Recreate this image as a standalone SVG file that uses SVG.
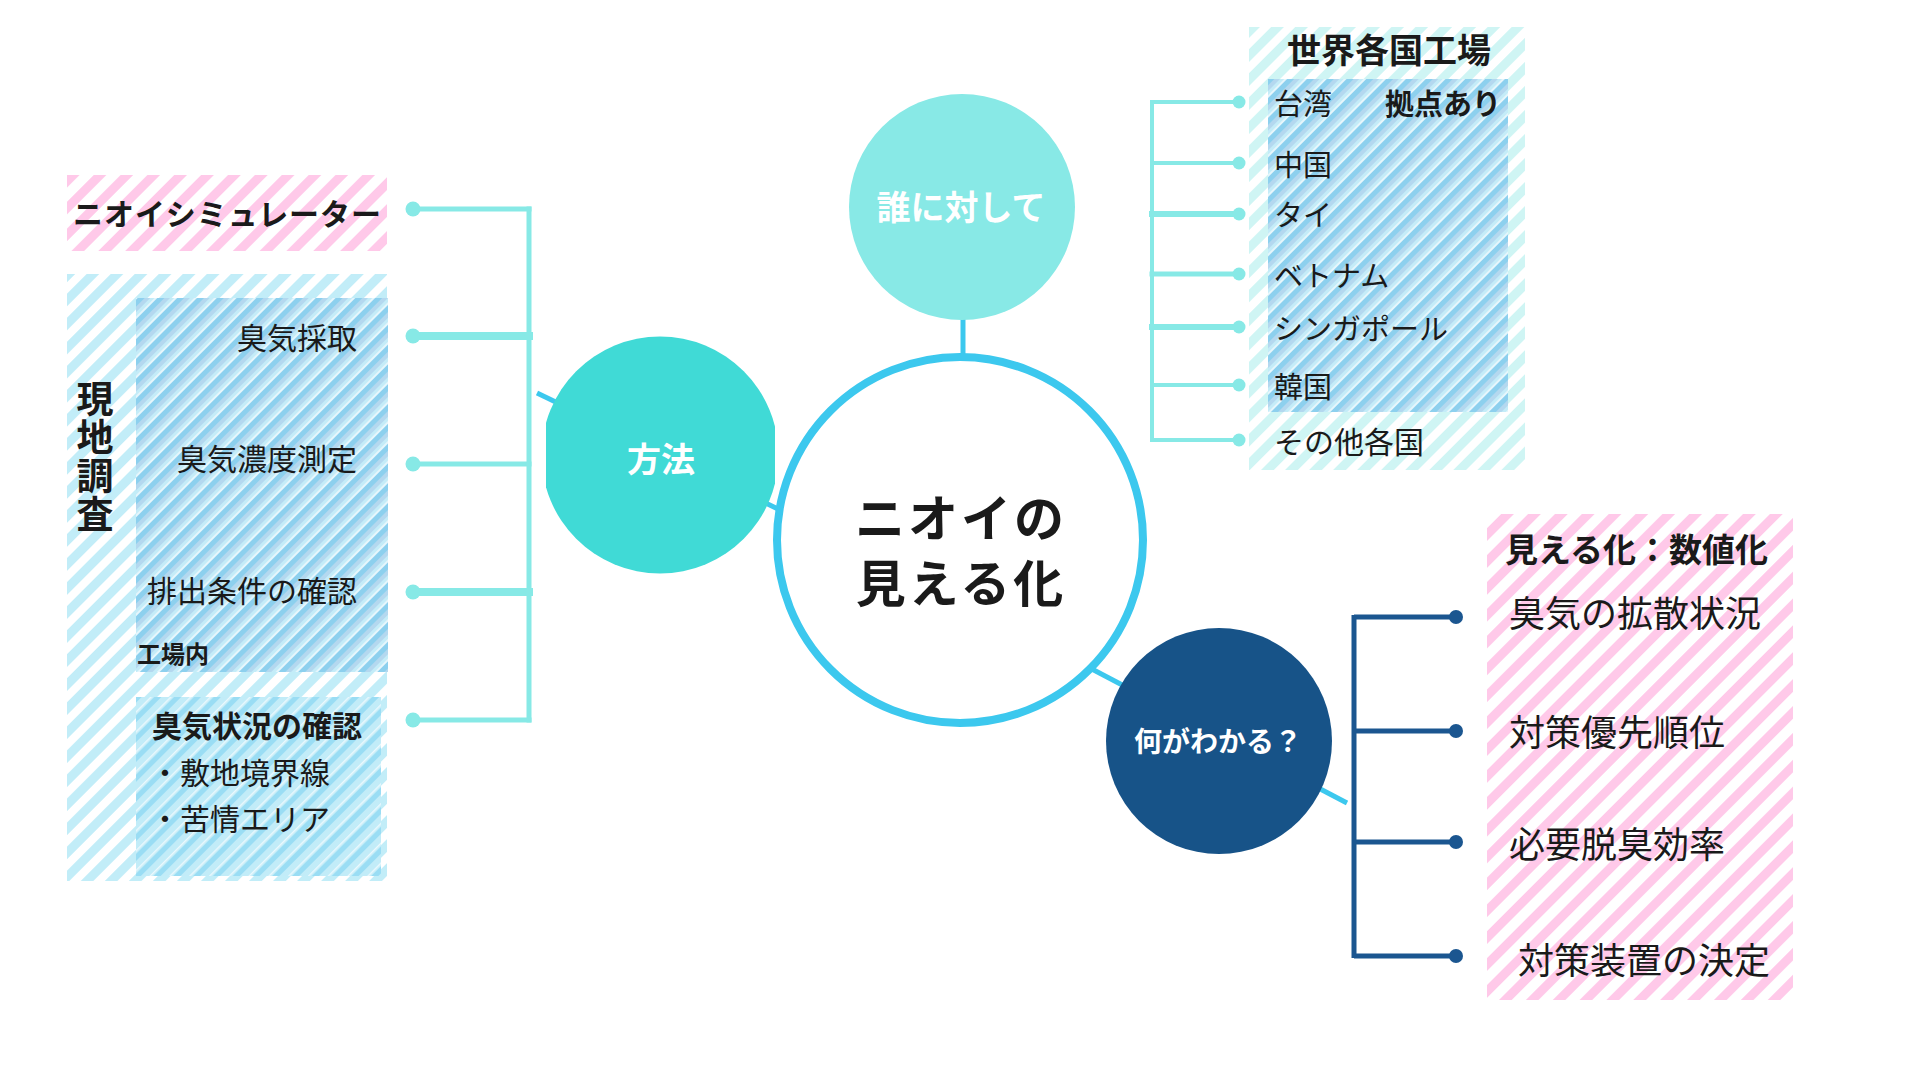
<svg xmlns="http://www.w3.org/2000/svg" width="1920" height="1080" viewBox="0 0 1920 1080">
<style>
text{font-family:"Noto Sans CJK JP","Noto Sans",sans-serif;fill:#1a1a1a}
.b{font-weight:700}
.w{fill:#ffffff;font-weight:700}
.c{dominant-baseline:central}
.br{fill:none;stroke:#87E9E6;stroke-linecap:square}
.dot{fill:#87E9E6}
.dk{fill:none;stroke:#1B5690;stroke-width:5}
.dkdot{fill:#1B5690}
.main{stroke:#3CC8EE;stroke-width:5;fill:none}
</style>
<defs>
<pattern id="pink" patternUnits="userSpaceOnUse" width="19" height="19" patternTransform="rotate(45)">
<rect width="19" height="19" fill="#ffffff"/><rect width="9" height="19" fill="#FFC9E9"/>
</pattern>
<pattern id="lblue" patternUnits="userSpaceOnUse" width="17" height="17" patternTransform="rotate(45)">
<rect width="17" height="17" fill="#ffffff"/><rect width="9" height="17" fill="#C2EDF8"/>
</pattern>
<pattern id="cyan" patternUnits="userSpaceOnUse" width="17" height="17" patternTransform="rotate(45)">
<rect width="17" height="17" fill="#ffffff"/><rect width="9" height="17" fill="#CFF5F4"/>
</pattern>
<pattern id="dblue" patternUnits="userSpaceOnUse" width="14" height="14" patternTransform="rotate(45)">
<rect width="14" height="14" fill="#C4ECF8"/><rect width="5" height="14" fill="#8DD0EE"/><rect x="5" width="4" height="14" fill="#B4D8EF"/><rect x="12" width="2" height="14" fill="#E6F6FC"/>
</pattern>
<pattern id="mblue" patternUnits="userSpaceOnUse" width="14" height="14" patternTransform="rotate(45)">
<rect width="14" height="14" fill="#C2ECF8"/><rect width="5" height="14" fill="#9ADDF4"/><rect x="11" width="1.5" height="14" fill="#EAF8FD"/>
</pattern>
<clipPath id="clipHoho"><rect x="546" y="330" width="229" height="250"/></clipPath>
</defs>
<rect width="1920" height="1080" fill="#ffffff"/>

<g id="connectors">
<line class="main" x1="537" y1="393" x2="778" y2="509"/>
<line class="main" x1="1088" y1="667" x2="1347" y2="803"/>
<line class="main" x1="963" y1="318" x2="963" y2="356" stroke-width="4"/>
<!-- left bracket -->
<line class="br" x1="529" y1="209" x2="529" y2="720" stroke-width="5"/>
<line class="br" x1="413" y1="209" x2="529" y2="209" stroke-width="5"/>
<line class="br" x1="413" y1="336" x2="529" y2="336" stroke-width="8"/>
<line class="br" x1="413" y1="464" x2="529" y2="464" stroke-width="5"/>
<line class="br" x1="413" y1="592" x2="529" y2="592" stroke-width="8"/>
<line class="br" x1="413" y1="720" x2="529" y2="720" stroke-width="5"/>
<circle class="dot" cx="413" cy="209" r="7.5"/>
<circle class="dot" cx="413" cy="336" r="7.5"/>
<circle class="dot" cx="413" cy="464" r="7.5"/>
<circle class="dot" cx="413" cy="592" r="7.5"/>
<circle class="dot" cx="413" cy="720" r="7.5"/>
<!-- top right bracket -->
<line class="br" x1="1152" y1="102" x2="1152" y2="440" stroke-width="4"/>
<line class="br" x1="1152" y1="102" x2="1239" y2="102" stroke-width="4"/>
<line class="br" x1="1152" y1="163" x2="1239" y2="163" stroke-width="4"/>
<line class="br" x1="1152" y1="214" x2="1239" y2="214" stroke-width="6"/>
<line class="br" x1="1152" y1="274" x2="1239" y2="274" stroke-width="5"/>
<line class="br" x1="1152" y1="327" x2="1239" y2="327" stroke-width="6"/>
<line class="br" x1="1152" y1="385" x2="1239" y2="385" stroke-width="4"/>
<line class="br" x1="1152" y1="440" x2="1239" y2="440" stroke-width="4"/>
<circle class="dot" cx="1239" cy="102" r="6.5"/>
<circle class="dot" cx="1239" cy="163" r="6.5"/>
<circle class="dot" cx="1239" cy="214" r="6.5"/>
<circle class="dot" cx="1239" cy="274" r="6.5"/>
<circle class="dot" cx="1239" cy="327" r="6.5"/>
<circle class="dot" cx="1239" cy="385" r="6.5"/>
<circle class="dot" cx="1239" cy="440" r="6.5"/>
<!-- bottom right bracket -->
<line class="dk" x1="1354" y1="615" x2="1354" y2="958"/>
<line class="dk" x1="1354" y1="617" x2="1456" y2="617"/>
<line class="dk" x1="1354" y1="731" x2="1456" y2="731"/>
<line class="dk" x1="1354" y1="842" x2="1456" y2="842"/>
<line class="dk" x1="1354" y1="956" x2="1456" y2="956"/>
<circle class="dkdot" cx="1456" cy="617" r="7"/>
<circle class="dkdot" cx="1456" cy="731" r="7"/>
<circle class="dkdot" cx="1456" cy="842" r="7"/>
<circle class="dkdot" cx="1456" cy="956" r="7"/>
</g>

<g id="center">
<circle cx="960" cy="540" r="183" fill="#ffffff" stroke="#3CC8EE" stroke-width="8"/>
<text class="b c" x="961" y="515" font-size="50" text-anchor="middle" letter-spacing="3">ニオイの</text>
<text class="b c" x="961" y="580" font-size="50" text-anchor="middle" letter-spacing="3">見える化</text>
</g>

<g id="node-dare">
<circle cx="962" cy="207" r="113" fill="#88E9E6"/>
<text class="w c" x="961" y="205" font-size="34" text-anchor="middle">誰に対して</text>
</g>

<g id="node-hoho">
<circle cx="660" cy="455" r="118.5" fill="#40DAD6" clip-path="url(#clipHoho)"/>
<text class="w c" x="661" y="457" font-size="34" text-anchor="middle">方法</text>
</g>

<g id="node-nani">
<circle cx="1219" cy="741" r="113" fill="#175388"/>
<text class="w c" x="1218" y="740" font-size="28" text-anchor="middle">何がわかる？</text>
</g>

<g id="box-simulator">
<rect x="67" y="175" width="320" height="76" fill="url(#pink)"/>
<text class="b c" x="73" y="212" font-size="30" textLength="308">ニオイシミュレーター</text>
</g>

<g id="box-genchi">
<rect x="67" y="274" width="320" height="607" fill="url(#lblue)"/>
<rect x="136" y="298" width="252" height="374" fill="url(#dblue)"/>
<rect x="136" y="697" width="245" height="179" fill="url(#mblue)"/>
<text class="b" x="95" y="380" font-size="37" writing-mode="vertical-rl" letter-spacing="1.5">現地調査</text>
<text class="c" x="357" y="336" font-size="30" text-anchor="end">臭気採取</text>
<text class="c" x="357" y="457" font-size="30" text-anchor="end">臭気濃度測定</text>
<text class="c" x="357" y="589" font-size="30" text-anchor="end">排出条件の確認</text>
<text class="b c" x="137" y="652" font-size="24">工場内</text>
<text class="b c" x="152" y="724" font-size="30">臭気状況の確認</text>
<text class="c" x="150" y="771" font-size="30">・敷地境界線</text>
<text class="c" x="150" y="817" font-size="30">・苦情エリア</text>
</g>

<g id="box-world">
<rect x="1249" y="27" width="276" height="443" fill="url(#cyan)"/>
<rect x="1268" y="79" width="240" height="333" fill="url(#dblue)"/>
<text class="b c" x="1389" y="48" font-size="34" text-anchor="middle">世界各国工場</text>
<text class="c" x="1274" y="102" font-size="29">台湾</text>
<text class="b c" x="1385" y="102" font-size="29">拠点あり</text>
<text class="c" x="1274" y="163" font-size="29">中国</text>
<text class="c" x="1274" y="213" font-size="29">タイ</text>
<text class="c" x="1274" y="274" font-size="29">ベトナム</text>
<text class="c" x="1274" y="327" font-size="29">シンガポール</text>
<text class="c" x="1274" y="385" font-size="29">韓国</text>
<text class="c" x="1274" y="440" font-size="30">その他各国</text>
</g>

<g id="box-result">
<rect x="1487" y="514" width="306" height="486" fill="url(#pink)"/>
<text class="b c" x="1505" y="548" font-size="33">見える化：数値化</text>
<text class="c" x="1509" y="611" font-size="36">臭気の拡散状況</text>
<text class="c" x="1509" y="730" font-size="36">対策優先順位</text>
<text class="c" x="1509" y="842" font-size="36">必要脱臭効率</text>
<text class="c" x="1518" y="958" font-size="36">対策装置の決定</text>
</g>
</svg>
